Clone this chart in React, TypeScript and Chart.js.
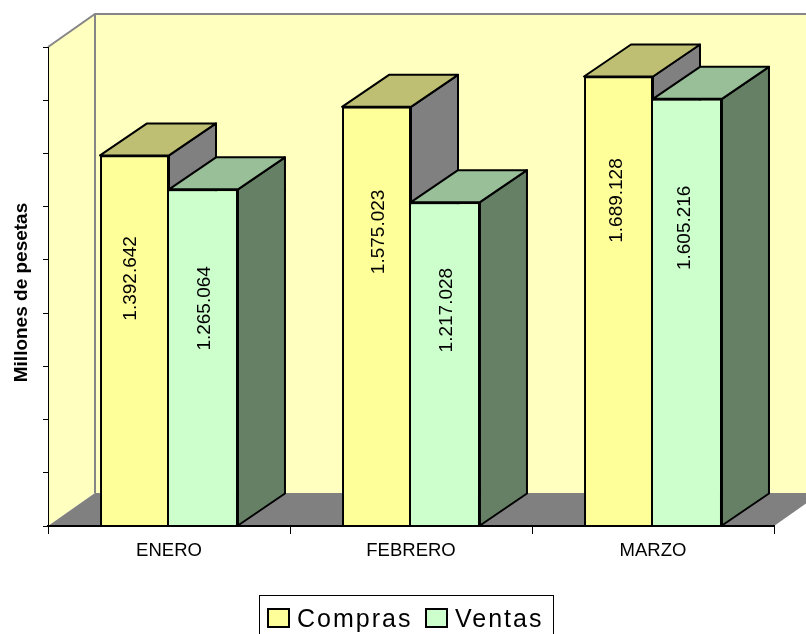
import React, { useEffect, useRef } from "react";
import { Chart, registerables } from "chart.js";

Chart.register(...registerables);

const categories = ["ENERO", "FEBRERO", "MARZO"];
const compras = [1392642, 1575023, 1689128];
const ventas = [1265064, 1217028, 1605216];
const yTicksMax = 1800000;
const yTickStep = 200000;
const axisTitle = "Millones de pesetas";

const FONT = '"Liberation Sans", Arial, sans-serif';
const DEPTH_X = 47;
const DEPTH_Y = 32;
const WALL_DEPTH_Y = 33;
const WALL = "#FFFFC0";
const FLOOR = "#808080";
const faces = [
  { front: "#FFFF99", top: "#BFBF73", side: "#808080" },
  { front: "#CCFFCC", top: "#99BF99", side: "#668066" },
];
// label centre offset from the bar's top edge, and x nudge from the bar centre
const labelDown = [
  [123, 125, 124],
  [119, 108, 129],
];
const labelNudge = [
  [-4, 2, -2],
  [1, 1, -3],
];

const poly = (ctx: CanvasRenderingContext2D, pts: number[][], fill: string | null, stroke?: string, lw = 2) => {
  ctx.beginPath();
  pts.forEach(([x, y], i) => (i ? ctx.lineTo(x, y) : ctx.moveTo(x, y)));
  ctx.closePath();
  if (fill) {
    ctx.fillStyle = fill;
    ctx.fill();
  }
  if (stroke) {
    ctx.strokeStyle = stroke;
    ctx.lineWidth = lw;
    ctx.lineJoin = "round";
    ctx.stroke();
  }
};

const fmt = (v: number) => String(v).replace(/\B(?=(\d{3})+$)/g, ".");

const scene = {
  id: "scene3d",
  beforeDraw(chart: any) {
    const { ctx, chartArea: a } = chart;
    const { left: l, right: r, top: t, bottom: b } = a;
    const yScale = chart.scales.y;
    if (!yScale.__shifted) {
      const orig = yScale.drawTitle;
      yScale.drawTitle = function () {
        ctx.save();
        ctx.translate(0, 6);
        orig.call(yScale);
        ctx.restore();
      };
      yScale.__shifted = true;
    }
    const dy = WALL_DEPTH_Y;
    ctx.save();
    poly(ctx, [[l + DEPTH_X, t - dy], [chart.width + 40, t - dy], [chart.width + 40, b - dy], [l + DEPTH_X, b - dy]], WALL);
    poly(ctx, [[l, t], [l + DEPTH_X, t - dy], [l + DEPTH_X, b - dy], [l, b]], WALL);
    poly(ctx, [[l, b], [l + DEPTH_X, b - dy], [r + DEPTH_X, b - dy], [r, b]], FLOOR);
    ctx.strokeStyle = "#868686";
    ctx.lineWidth = 2;
    ctx.beginPath();
    ctx.moveTo(l, t);
    ctx.lineTo(l + DEPTH_X, t - dy);
    ctx.lineTo(chart.width + 40, t - dy);
    ctx.moveTo(l + DEPTH_X, t - dy);
    ctx.lineTo(l + DEPTH_X, b - dy);
    ctx.stroke();
    ctx.restore();
  },
  beforeDatasetsDraw(chart: any) {
    const { ctx } = chart;
    ctx.save();
    chart.data.datasets.forEach((_: any, d: number) => {
      const f = faces[d];
      chart.getDatasetMeta(d).data.forEach((bar: any) => {
        const x0 = bar.x - bar.width / 2;
        const x1 = bar.x + bar.width / 2;
        const y0 = bar.y;
        const y1 = bar.base;
        poly(ctx, [[x1, y0], [x1 + DEPTH_X, y0 - DEPTH_Y], [x1 + DEPTH_X, y1 - DEPTH_Y], [x1, y1]], f.side, "#000");
        poly(ctx, [[x0, y0], [x0 + DEPTH_X, y0 - DEPTH_Y], [x1 + DEPTH_X, y0 - DEPTH_Y], [x1, y0]], f.top, "#000");
      });
    });
    ctx.restore();
  },
  afterDatasetsDraw(chart: any) {
    const { ctx } = chart;
    ctx.save();
    ctx.fillStyle = "#000";
    ctx.font = `19px ${FONT}`;
    ctx.textAlign = "center";
    ctx.textBaseline = "middle";
    chart.data.datasets.forEach((ds: any, d: number) => {
      chart.getDatasetMeta(d).data.forEach((bar: any, i: number) => {
        ctx.save();
        ctx.translate(bar.x + labelNudge[d][i], bar.y + labelDown[d][i]);
        ctx.rotate(-Math.PI / 2);
        ctx.fillText(fmt(ds.data[i]), 0, 0);
        ctx.restore();
      });
    });
    ctx.restore();
  },
  afterDraw(chart: any) {
    const { ctx } = chart;
    ctx.save();
    ctx.strokeStyle = "#000";
    ctx.lineWidth = 1;
    ctx.strokeRect(259.5, 595.5, 294, 60);
    ctx.font = `25px ${FONT}`;
    (ctx as any).letterSpacing = "2px";
    ctx.textBaseline = "alphabetic";
    ctx.textAlign = "left";
    const boxX = [268, 426];
    const textX = [297, 455];
    chart.data.datasets.forEach((ds: any, d: number) => {
      ctx.fillStyle = ds.backgroundColor;
      ctx.strokeStyle = "#000";
      ctx.lineWidth = 2;
      ctx.fillRect(boxX[d], 609, 21, 18);
      ctx.strokeRect(boxX[d], 609, 21, 18);
      ctx.fillStyle = "#000";
      ctx.fillText(ds.label, textX[d], 627);
    });
    ctx.restore();
  },
};

export default function App() {
  const ref = useRef<HTMLCanvasElement | null>(null);
  useEffect(() => {
    if (!ref.current) return;
    const chart = new Chart(ref.current, {
      type: "bar",
      data: {
        labels: categories,
        datasets: [
          {
            label: "Compras",
            data: compras,
            backgroundColor: faces[0].front,
            borderColor: "#000",
            borderSkipped: false,
            borderWidth: { top: 2, left: 2, right: 2, bottom: 0 },
          },
          {
            label: "Ventas",
            data: ventas,
            backgroundColor: faces[1].front,
            borderColor: "#000",
            borderSkipped: false,
            borderWidth: { top: 2, left: 0, right: 2, bottom: 0 },
          },
        ],
      },
      options: {
        animation: false,
        responsive: false,
        devicePixelRatio: 1,
        layout: { padding: { top: 47, right: 32, left: 0, bottom: 0 } },
        datasets: { bar: { barPercentage: 1, categoryPercentage: 0.57 } },
        plugins: { legend: { display: false }, tooltip: { enabled: false } },
        scales: {
          x: {
            afterFit: (s: any) => {
              s.height = 108;
            },
            grid: { drawOnChartArea: false, drawTicks: true, tickLength: 8, color: "#000", offset: true },
            border: { color: "#000", width: 2, z: 1 },
            ticks: { color: "#000", font: { family: FONT, size: 18.5 }, padding: 6, maxRotation: 0 },
          },
          y: {
            min: 0,
            max: yTicksMax,
            afterFit: (s: any) => {
              s.width = 48;
            },
            grid: { drawOnChartArea: false, drawTicks: true, tickLength: 5, color: "#000" },
            border: { color: "#000", width: 1 },
            ticks: { display: false, stepSize: yTickStep },
            title: {
              display: true,
              text: axisTitle,
              color: "#000",
              font: { family: FONT, size: 19, weight: "bold" },
              padding: { top: 10, bottom: 0 },
            },
          },
        },
      },
      plugins: [scene],
    } as any);
    return () => chart.destroy();
  }, []);
  return (
    <div style={{ position: "fixed", left: 0, top: 0, width: 806, height: 634, overflow: "hidden", background: "#fff" }}>
      <canvas ref={ref} width={806} height={634} style={{ display: "block" }} />
    </div>
  );
}
